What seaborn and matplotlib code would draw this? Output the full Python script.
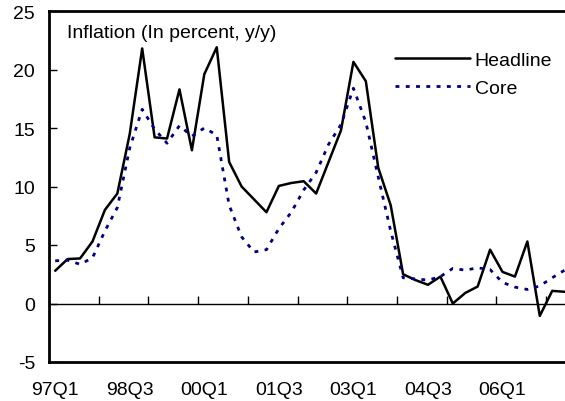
import numpy as np
import pandas as pd
import matplotlib
matplotlib.use("Agg")
import matplotlib.pyplot as plt
import seaborn as sns

# quarterly labels 97Q1 .. 07Q2
QUARTERS = [f"{y % 100:02d}Q{q}" for y in range(1997, 2008) for q in range(1, 5)][:42]

HEADLINE = [2.8, 3.8, 3.85, 5.3, 8.0, 9.4, 14.5, 21.8, 14.2, 14.1,
            18.3, 13.1, 19.6, 21.9, 12.1, 10.0, 8.9, 7.8, 10.05, 10.3,
            10.45, 9.4, 12.1, 14.8, 20.65, 19.0, 11.6, 8.4, 2.5, 2.0,
            1.6, 2.3, 0.0, 0.9, 1.45, 4.6, 2.7, 2.3, 5.3, -1.06,
            1.08, 1.0]
CORE = [3.65, 3.7, 3.35, 3.9, 6.2, 8.2, 13.3, 16.6, 14.9, 13.7,
        15.2, 14.3, 15.0, 14.4, 8.4, 5.7, 4.4, 4.6, 6.4, 7.8,
        9.7, 11.2, 13.6, 15.3, 18.4, 15.5, 10.8, 6.2, 2.2, 2.1,
        2.0, 2.3, 3.0, 2.85, 3.05, 2.9, 1.8, 1.4, 1.2, 1.5,
        2.2, 2.85]
TICK_LABELS = ["97Q1", "98Q3", "00Q1", "01Q3", "03Q1", "04Q3", "06Q1"]
Y_TICKS = [-5, 0, 5, 10, 15, 20, 25]

sns.set_theme(style="white")
plt.rcParams["font.family"] = ["Liberation Sans", "DejaVu Sans"]
plt.rcParams.update({"text.color": "black", "xtick.color": "black",
                     "ytick.color": "black", "axes.labelcolor": "black",
                     "axes.unicode_minus": False})

df = pd.DataFrame({"pos": np.arange(len(QUARTERS)), "quarter": QUARTERS,
                   "Headline": HEADLINE, "Core": CORE})

W, H = 565, 402
fig = plt.figure(figsize=(W / 100, H / 100), dpi=100)
ax = fig.add_axes([49 / W, 39 / H, 546.7 / W, 351 / H])

sns.lineplot(data=df, x="pos", y="Headline", ax=ax, color="black",
             linewidth=1.8, label="Headline")
sns.lineplot(data=df, x="pos", y="Core", ax=ax, color="#000080",
             linewidth=2.0, linestyle=(0, (1.4, 2.3)), label="Core")

ax.set_xlim(-0.5, 43.5)
ax.set_ylim(-5, 25)
ax.set_xlabel("")
ax.set_ylabel("")

ax.set_yticks(Y_TICKS)
ax.tick_params(axis="y", left=True, direction="in", length=6, width=1,
               color="black", pad=10, labelsize=14)
ax.set_xticks([QUARTERS.index(l) for l in TICK_LABELS], TICK_LABELS)
ax.tick_params(axis="x", bottom=True, length=0, pad=14, labelsize=14)

for s in ax.spines.values():
    s.set_color("black")
    s.set_linewidth(2)

# category axis crossing at zero, with year ticks pointing up
y0, y1 = ax.get_ylim()
sec = ax.secondary_xaxis((0 - y0) / (y1 - y0))
sec.set_xticks(np.arange(3.5, 43, 4))
sec.tick_params(bottom=True, direction="in", length=6, width=1,
                color="black", labelbottom=False)
sec.spines["bottom"].set_linewidth(1)
sec.spines["bottom"].set_color("black")

ax.legend(loc="upper left", bbox_to_anchor=(395 / W, 1 - 52 / H),
          bbox_transform=fig.transFigure, frameon=False, fontsize=14,
          handlelength=3.85, handletextpad=0.25, borderpad=0,
          borderaxespad=0, labelspacing=0.55)

fig.text(67 / W, 1 - 33 / H, "Inflation (In percent, y/y)", fontsize=14,
         ha="left", va="center")

fig.savefig("out.png", dpi=100)
